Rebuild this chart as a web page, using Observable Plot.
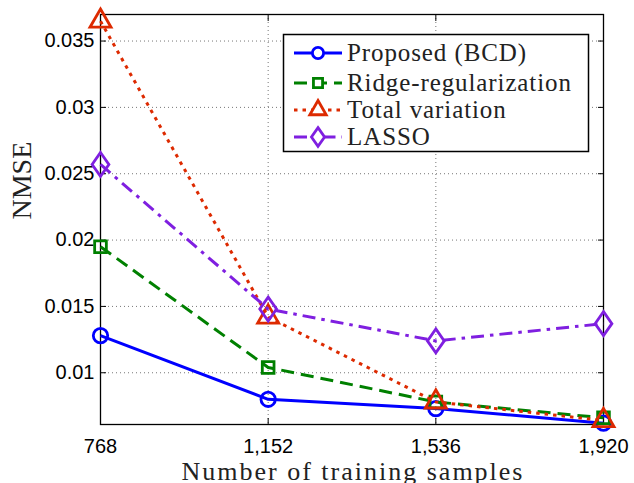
<!DOCTYPE html>
<html>
<head>
<meta charset="utf-8">
<script src="https://cdn.jsdelivr.net/npm/d3@7"></script>
<script src="https://cdn.jsdelivr.net/npm/@observablehq/plot@0.6"></script>
<style>
  body { margin: 0; background: #fff; }
  #wrap { position: relative; width: 634px; height: 483px; }
  #legend { position: absolute; left: 0; top: 0; }
  .xlab text { letter-spacing: 2px; }
</style>
</head>
<body>
<div id="wrap"></div>
<script>
const samples = [768, 1152, 1536, 1920];
const proposed = [0.0128, 0.0080, 0.0073, 0.0062];
const ridge    = [0.0195, 0.0104, 0.0078, 0.0066];
const tv       = [0.0365, 0.0142, 0.0078, 0.0064];
const lasso    = [0.0257, 0.0148, 0.0124, 0.0137];
const yTicks = [0.01, 0.015, 0.02, 0.025, 0.03, 0.035];
const xLabel = "Number of training samples";
const yLabel = "NMSE";

// rhombus: width 0.7 of height (like the reference's diamond marker)
const diamond = {
  draw(ctx, size) {
    const h = Math.sqrt(size / 0.35) / 2, w = 0.7 * h;
    ctx.moveTo(0, -h); ctx.lineTo(w, 0); ctx.lineTo(0, h); ctx.lineTo(-w, 0); ctx.closePath();
  }
};

const series = [
  {name: "Proposed (BCD)", values: proposed, color: "#0000ff", dash: null, symbol: d3.symbolCircle, r: 7.2},
  {name: "Ridge-regularization", values: ridge, color: "#008000", dash: "13,7", symbol: d3.symbolSquare, r: 6.6},
  {name: "Total variation", values: tv, color: "#dd2a00", dash: "3.5,5", symbol: d3.symbolTriangle, r: 7.8},
  {name: "LASSO", values: lasso, color: "#7f1fe0", dash: "13,6,3.5,6", symbol: diamond, r: 8}
];

const rows = series.map(s => samples.map((x, i) => ({x, y: s.values[i], name: s.name})));
const serif = "'Liberation Serif', 'Times New Roman', serif";
const sans = "'Liberation Sans', Arial, Helvetica, sans-serif";

const marks = [
  Plot.gridX(samples, {stroke: "#777", strokeOpacity: 1, strokeWidth: 1, strokeDasharray: "1,3"}),
  Plot.gridY(yTicks, {stroke: "#777", strokeOpacity: 1, strokeWidth: 1, strokeDasharray: "1,3"}),
  Plot.axisX(samples, {anchor: "bottom", tickSize: -6, tickPadding: 20, tickFormat: d3.format(","), fontSize: 20, fontFamily: sans, label: null}),
  Plot.axisX(samples, {anchor: "top", tickSize: -6, tickFormat: () => "", label: null}),
  Plot.axisY(yTicks, {anchor: "left", tickSize: -6, tickPadding: 12, tickFormat: d => String(+d.toFixed(3)), fontSize: 20, fontFamily: sans, label: null}),
  Plot.axisY(yTicks, {anchor: "right", tickSize: -6, tickFormat: () => "", label: null}),
  Plot.frame({stroke: "#000", strokeWidth: 1.3}),
  Plot.text([xLabel], {frameAnchor: "bottom", dy: 55, dx: 1, lineAnchor: "bottom", text: d => d, fontSize: 26, fontFamily: serif, fill: "#222", className: "xlab"}),
  Plot.text([yLabel], {frameAnchor: "left", dx: -78, rotate: -90, lineAnchor: "middle", text: d => d, fontSize: 28, fontFamily: serif, fill: "#222"})
];
series.forEach((s, k) => {
  marks.push(Plot.line(rows[k], {x: "x", y: "y", stroke: s.color, strokeWidth: 3, strokeDasharray: s.dash, strokeLinecap: "butt"}));
  marks.push(Plot.dot(rows[k], {x: "x", y: "y", stroke: s.color, strokeWidth: 2.8, fill: "none", symbol: s.symbol, r: s.r}));
});

const chart = Plot.plot({
  width: 634, height: 483,
  marginLeft: 100, marginRight: 31, marginTop: 14, marginBottom: 59,
  x: {type: "linear", domain: [768, 1920]},
  y: {type: "linear", domain: [0.0061, 0.0370]},
  style: {background: "#fff", color: "#000", overflow: "visible"},
  marks
});
document.getElementById("wrap").appendChild(chart);

// legend
const lg = d3.select("#wrap").append("svg").attr("id", "legend")
  .attr("width", 634).attr("height", 483);
lg.append("rect").attr("x", 283.5).attr("y", 34.5).attr("width", 305).attr("height", 117)
  .attr("fill", "#fff").attr("stroke", "#000").attr("stroke-width", 1.5);
const rowY = [53, 83, 110, 137];
series.forEach((s, i) => {
  const y = rowY[i];
  const g = lg.append("g");
  g.append("line").attr("x1", 294).attr("x2", 342).attr("y1", y).attr("y2", y)
    .attr("stroke", s.color).attr("stroke-width", 3).attr("stroke-dasharray", s.dash);
  const rr = s.r * 0.78;
  g.append("path").attr("transform", `translate(318,${y})`)
    .attr("d", d3.symbol(s.symbol, Math.PI * rr * rr)())
    .attr("fill", "#fff").attr("stroke", s.color).attr("stroke-width", 2.8);
  g.append("text").attr("x", 347).attr("y", y).attr("dy", "0.33em")
    .attr("font-family", serif).attr("font-size", 25).attr("letter-spacing", 0.9)
    .attr("fill", "#222")
    .text(s.name);
});
</script>
</body>
</html>
